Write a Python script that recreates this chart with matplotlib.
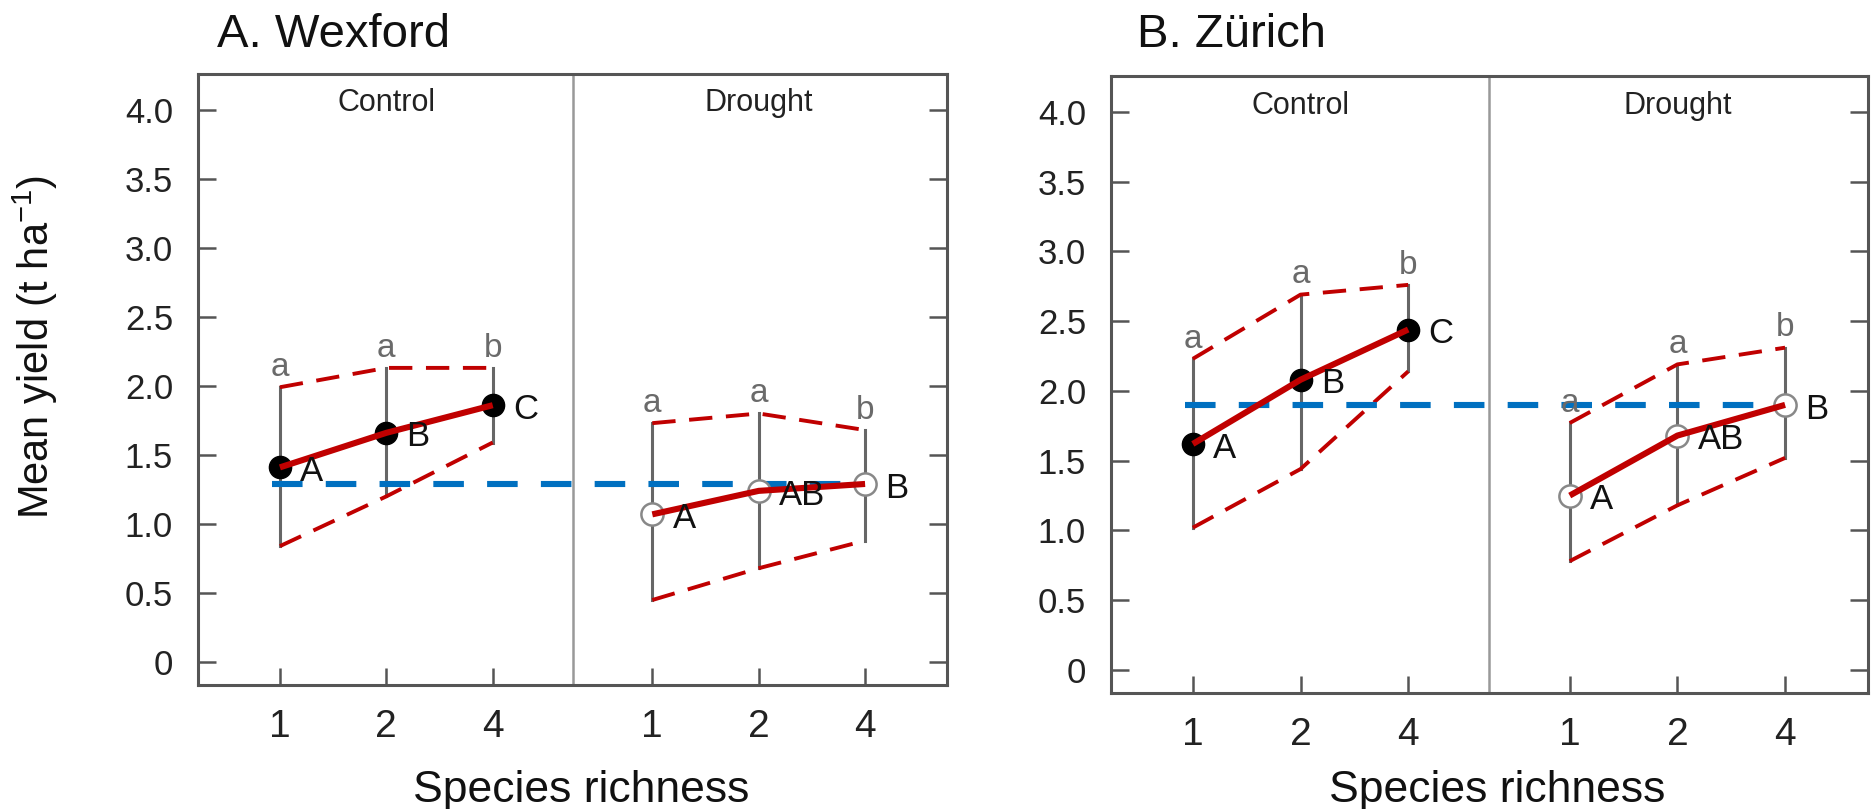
import matplotlib
matplotlib.use("Agg")
import matplotlib.pyplot as plt

plt.rcParams['font.family'] = ['Liberation Sans', 'DejaVu Sans']
plt.rcParams['mathtext.default'] = 'regular'

# species richness levels (x tick labels) and treatment names
richness_labels = ["1", "2", "4"]
treatments = ["Control", "Drought"]

# Wexford: means and error bar ends (t/ha)
wex_ctrl_mean = [1.41, 1.66, 1.86]
wex_ctrl_lo = [0.84, 1.20, 1.59]
wex_ctrl_hi = [1.99, 2.13, 2.13]
wex_dr_mean = [1.07, 1.24, 1.29]
wex_dr_lo = [0.45, 0.68, 0.88]
wex_dr_hi = [1.73, 1.80, 1.68]
wex_ref = 1.29

# Zurich
zur_ctrl_mean = [1.62, 2.08, 2.44]
zur_ctrl_lo = [1.02, 1.44, 2.14]
zur_ctrl_hi = [2.23, 2.69, 2.76]
zur_dr_mean = [1.25, 1.68, 1.90]
zur_dr_lo = [0.78, 1.18, 1.52]
zur_dr_hi = [1.77, 2.19, 2.31]
zur_ref = 1.90

# significance letters
ctrl_small = ["a", "a", "b"]
ctrl_caps = ["A", "B", "C"]
dr_small = ["a", "a", "b"]
dr_caps = ["A", "AB", "B"]

RED = "#C00000"
BLUE = "#0070C0"
GREY = "#555555"

ctrl_x = [1, 2, 3]
dr_x = [4.5, 5.5, 6.5]


def draw_group(ax, x, mean, lo, hi, small, caps, filled):
    for xi, l, h in zip(x, lo, hi):
        ax.plot([xi, xi], [l, h], color="#666666", lw=2.2, zorder=2)
    ax.plot(x, lo, color=RED, lw=2.8, ls=(0, (6, 3.5)), zorder=3)
    ax.plot(x, hi, color=RED, lw=2.8, ls=(0, (6, 3.5)), zorder=3)
    if filled:
        ax.plot(x, mean, "o", ms=16, mfc="black", mec="black", zorder=5)
    else:
        ax.plot(x, mean, "o", ms=16, mfc="white", mec="#888888", mew=1.8, zorder=5)
    ax.plot(x, mean, color=RED, lw=4.4, zorder=6, solid_capstyle="butt")
    for xi, m, h, s, c in zip(x, mean, hi, small, caps):
        ax.text(xi, h + 0.08, s, ha="center", va="baseline", fontsize=24, color="#6a6a6a", zorder=7)
        ax.text(xi + 0.19, m - 0.03, c, ha="left", va="center", fontsize=25, color="#111111", zorder=7)


def draw_panel(ax, ctrl, dr, ref, xlim):
    draw_group(ax, ctrl_x, *ctrl, ctrl_small, ctrl_caps, True)
    draw_group(ax, dr_x, *dr, dr_small, dr_caps, False)
    ax.plot([0.93, 6.5], [ref, ref], color=BLUE, lw=4.4, ls=(0, (5, 3.8)), zorder=4)
    ax.axvline(3.75, color="#999999", lw=1.8, zorder=1)
    ax.text(2, 4.045, treatments[0], ha="center", va="center", fontsize=22, color="#222222")
    ax.text(5.5, 4.045, treatments[1], ha="center", va="center", fontsize=22, color="#222222")
    ax.set_xlim(*xlim)
    ax.set_ylim(-0.165, 4.257)
    ax.set_yticks([0, 0.5, 1, 1.5, 2, 2.5, 3, 3.5, 4])
    ax.set_yticklabels(["0", "0.5", "1.0", "1.5", "2.0", "2.5", "3.0", "3.5", "4.0"])
    ax.set_xticks(ctrl_x + dr_x)
    ax.set_xticklabels(richness_labels + richness_labels)
    ax.tick_params(axis="y", direction="in", length=13, width=1.8, color=GREY,
                   left=True, right=True, labelsize=25, pad=18, labelcolor="#222222")
    ax.tick_params(axis="x", direction="in", length=12, width=1.8, color=GREY,
                   labelsize=28, pad=17, labelcolor="#222222")
    for sp in ax.spines.values():
        sp.set_color(GREY)
        sp.set_linewidth(2.2)


fig = plt.figure(figsize=(18.74, 8.09), dpi=100)
ax1 = fig.add_axes([0.10566, 0.15328, 0.39968, 0.75525])
ax2 = fig.add_axes([0.59285, 0.14339, 0.40395, 0.76267])

draw_panel(ax1, (wex_ctrl_mean, wex_ctrl_lo, wex_ctrl_hi),
           (wex_dr_mean, wex_dr_lo, wex_dr_hi), wex_ref, (0.23, 7.27))
draw_panel(ax2, (zur_ctrl_mean, zur_ctrl_lo, zur_ctrl_hi),
           (zur_dr_mean, zur_dr_lo, zur_dr_hi), zur_ref, (0.24, 7.27))

fig.text(217 / 1874, 1 - 47 / 809, "A. Wexford", fontsize=34, ha="left", va="baseline", color="#111111")
fig.text(1137 / 1874, 1 - 47 / 809, "B. Zürich", fontsize=34, ha="left", va="baseline", color="#111111")

fig.text(35 / 1874, 1 - 347 / 809, "Mean yield (t ha$^{-1}$)", fontsize=30, rotation=90,
         ha="center", va="center", color="#111111")

fig.text(581 / 1874, 1 - 802 / 809, "Species richness", fontsize=32, ha="center", va="baseline", color="#111111")
fig.text(1497 / 1874, 1 - 802 / 809, "Species richness", fontsize=32, ha="center", va="baseline", color="#111111")

fig.savefig("out.png", dpi=100)
